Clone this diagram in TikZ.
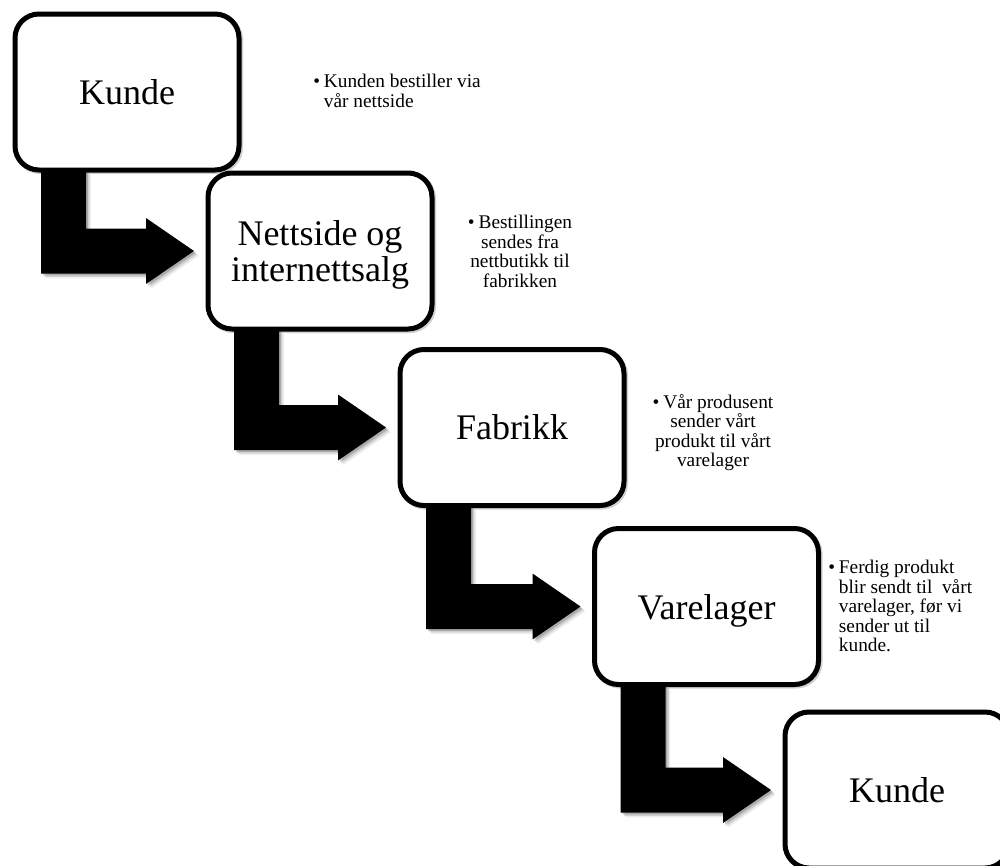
\documentclass[tikz,border=0pt]{standalone}
\usepackage{fontspec}
\setmainfont{Liberation Serif}
\usetikzlibrary{calc}

% one pixel of the layout grid
\newcommand\pxu{0.75pt}
% bullet with its gap before the text
\newcommand\bul{\makebox[8pt][l]{\textbullet}}
% keep a line's descenders out of the vertical centring
\newcommand\nodepth[1]{\raisebox{0pt}[\height][0pt]{#1}}

% L-shaped block arrow from the bottom of one stage to the left side of the next
\newcommand\flowarrow[2]{%
  \fill[blockarrow] let \p1=(#1.south west), \p2=(#2.west) in
    (\x1+26*\pxu,\y1) -- (\x1+71*\pxu,\y1) -- (\x1+71*\pxu,\y2+22.5*\pxu)
    -- (\x2-62*\pxu,\y2+22.5*\pxu) -- (\x2-62*\pxu,\y2+33*\pxu) -- (\x2-14*\pxu,\y2)
    -- (\x2-62*\pxu,\y2-33*\pxu) -- (\x2-62*\pxu,\y2-22.5*\pxu)
    -- (\x1+26*\pxu,\y2-22.5*\pxu) -- cycle;}

\begin{document}
\begin{tikzpicture}[x=0.75pt,y=-0.75pt,
  stage/.style={draw=black, line width=3.75pt, rounded corners=18pt, fill=white,
    minimum width=168pt, minimum height=117pt, inner sep=0pt, outer sep=0pt,
    align=center, font=\fontsize{27}{27}\selectfont,
    preaction={draw=black, draw opacity=0.18, transform canvas={shift={(1.2pt,-1.2pt)}}}},
  note/.style={inner sep=0pt, font=\fontsize{14.5}{14.6}\selectfont},
  blockarrow/.style={fill=black,
    preaction={fill=black, fill opacity=0.07, transform canvas={shift={(3.6pt,-3.6pt)}}},
    preaction={fill=black, fill opacity=0.12, transform canvas={shift={(2.5pt,-2.5pt)}}},
    preaction={fill=black, fill opacity=0.18, transform canvas={shift={(1.4pt,-1.4pt)}}}}]

\useasboundingbox[fill=white] (0,0) rectangle (1000,865);

% stages
\node[stage] (kunde)  at (127,92)     {Kunde};
\node[stage] (nett)   at (320,251)    {Nettside og\\\nodepth{internettsalg}};
\node[stage] (fab)    at (512,427.5)  {Fabrikk};
\node[stage] (lager)  at (706.5,606.5){\nodepth{Varelager}};
\node[stage] (kunde2) at (897,790)    {Kunde};

% arrows between the stages
\flowarrow{kunde}{nett}
\flowarrow{nett}{fab}
\flowarrow{fab}{lager}
\flowarrow{lager}{kunde2}

% notes beside the stages
\node[note, align=left, anchor=north west] (n1) at (313,74)
  {\bul Kunden bestiller via\\\hspace*{8pt}vår nettside};
\node[note, align=center, anchor=north] (n2) at (520,215)
  {\bul Bestillingen\\sendes fra\\nettbutikk til\\fabrikken};
\node[note, align=center, anchor=north] (n3) at (713,394)
  {\bul Vår produsent\\sender vårt\\produkt til vårt\\varelager};
\node[note, align=left, anchor=north west] (n4) at (828,560)
  {\bul Ferdig produkt\\\hspace*{8pt}blir sendt til\ \ vårt\\\hspace*{8pt}varelager, før vi\\\hspace*{8pt}sender ut til\\\hspace*{8pt}kunde.};
\end{tikzpicture}
\end{document}
